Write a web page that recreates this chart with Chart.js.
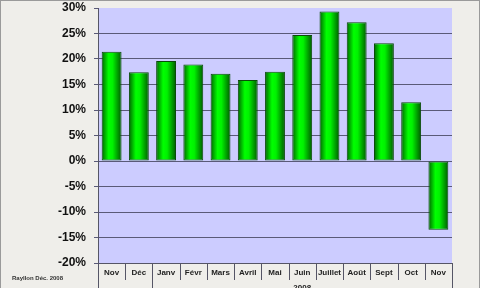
<!DOCTYPE html>
<html>
<head>
<meta charset="utf-8">
<script src="https://cdn.jsdelivr.net/npm/chart.js@4"></script>
<style>
  html, body { margin: 0; padding: 0; background: #efeeea; }
  #wrap { width: 480px; height: 288px; }
</style>
</head>
<body>
<div id="wrap"><canvas id="chart"></canvas></div>
<script>
// Données
const months = ['Nov', 'Déc', 'Janv', 'Févr', 'Mars', 'Avril', 'Mai', 'Juin', 'Juillet', 'Août', 'Sept', 'Oct', 'Nov'];
const values = [21.4, 17.4, 19.6, 18.9, 17.1, 15.9, 17.5, 24.7, 29.3, 27.2, 23.1, 11.5, -13.5];
const yMin = -20;
const yMax = 30;
const yStep = 5;
// groupes d'années sous l'axe
const groupLabels = ['', '2008'];
const groupStarts = [0, 2];
const credit = 'Rayllon Déc. 2008';

// Dégradé "cylindre" pour chaque barre
const barFill = (context) => {
    const chart = context.chart;
    const x = chart.scales.x;
    if (!x || context.dataIndex === undefined) return '#00dd00';
    const w = (x.width / months.length) * 0.73;
    const cx = x.getPixelForValue(context.dataIndex);
    if (!isFinite(cx) || !isFinite(w) || w <= 0) return '#00dd00';
    const g = chart.ctx.createLinearGradient(cx - w / 2, 0, cx + w / 2, 0);
    g.addColorStop(0, '#006400');
    g.addColorStop(0.35, '#00ff00');
    g.addColorStop(0.55, '#00f200');
    g.addColorStop(1, '#005a00');
    return g;
};

const decor = {
    id: 'decor',
    beforeDraw(chart) {
        const { ctx, chartArea: a } = chart;
        ctx.save();
        ctx.fillStyle = '#efeeea';
        ctx.fillRect(0, 0, chart.width, chart.height);
        ctx.strokeStyle = '#9a9a9a';
        ctx.lineWidth = 1;
        ctx.strokeRect(0.5, 0.5, chart.width - 1, chart.height + 4);
        ctx.fillStyle = '#ccccff';
        ctx.fillRect(a.left, a.top, a.right - a.left, a.bottom - a.top);
        ctx.restore();
    },
    afterDraw(chart) {
        const { ctx, chartArea: a } = chart;
        const x = chart.scales.x;
        const step = x.width / months.length;
        ctx.save();
        ctx.strokeStyle = '#555566';
        ctx.lineWidth = 1;
        // séparateurs de catégories
        for (let i = 0; i <= months.length; i++) {
            const px = Math.round(x.left + i * step) + 0.5;
            const long = i === months.length || groupStarts.includes(i);
            ctx.beginPath();
            ctx.moveTo(px, a.bottom);
            ctx.lineTo(px, long ? chart.height : a.bottom + 17);
            ctx.stroke();
        }
        // années
        ctx.fillStyle = '#222';
        ctx.font = 'bold 8px "Liberation Sans", Arial, sans-serif';
        ctx.textAlign = 'center';
        ctx.textBaseline = 'top';
        groupLabels.forEach((lab, k) => {
            const from = groupStarts[k];
            const to = k + 1 < groupStarts.length ? groupStarts[k + 1] : months.length;
            const cx = x.left + (from + to) / 2 * step;
            ctx.fillText(lab, cx, a.bottom + 21);
        });
        // signature
        ctx.textAlign = 'left';
        ctx.textBaseline = 'middle';
        ctx.font = 'bold 6px "Liberation Sans", Arial, sans-serif';
        ctx.fillStyle = '#333';
        ctx.fillText(credit, 12, 278);
        ctx.restore();
    }
};

new Chart(document.getElementById('chart'), {
    type: 'bar',
    data: {
        labels: months,
        datasets: [{
            data: values,
            backgroundColor: barFill,
            borderColor: '#0a4a0a',
            borderWidth: 1,
            borderSkipped: false,
            categoryPercentage: 1,
            barPercentage: 0.73
        }]
    },
    options: {
        responsive: true,
        maintainAspectRatio: false,
        animation: false,
        layout: { padding: { left: 0, top: 8, right: 28, bottom: 0 } },
        plugins: {
            legend: { display: false },
            tooltip: { enabled: false }
        },
        scales: {
            x: {
                afterFit: (s) => { s.height = 25; },
                grid: { display: false, drawTicks: false },
                border: { display: true, color: '#555566' },
                ticks: {
                    color: '#222',
                    padding: 5,
                    maxRotation: 0,
                    autoSkip: false,
                    font: { family: '"Liberation Sans", Arial, sans-serif', size: 8, weight: 'bold' }
                }
            },
            y: {
                min: yMin,
                max: yMax,
                afterFit: (s) => { s.width = 98; s.paddingTop = 0; },
                grid: {
                    color: (c) => c.tick && c.tick.value === yMax ? 'rgba(0,0,0,0)' : '#5a5a78',
                    tickColor: '#5a5a78',
                    tickLength: 4
                },
                border: { display: true, color: '#555566' },
                ticks: {
                    stepSize: yStep,
                    padding: 8,
                    color: '#111',
                    font: { family: '"Liberation Sans", Arial, sans-serif', size: 12, weight: 'bold' },
                    callback: (v) => v + '%'
                }
            }
        }
    },
    plugins: [decor]
});
</script>
</body>
</html>
